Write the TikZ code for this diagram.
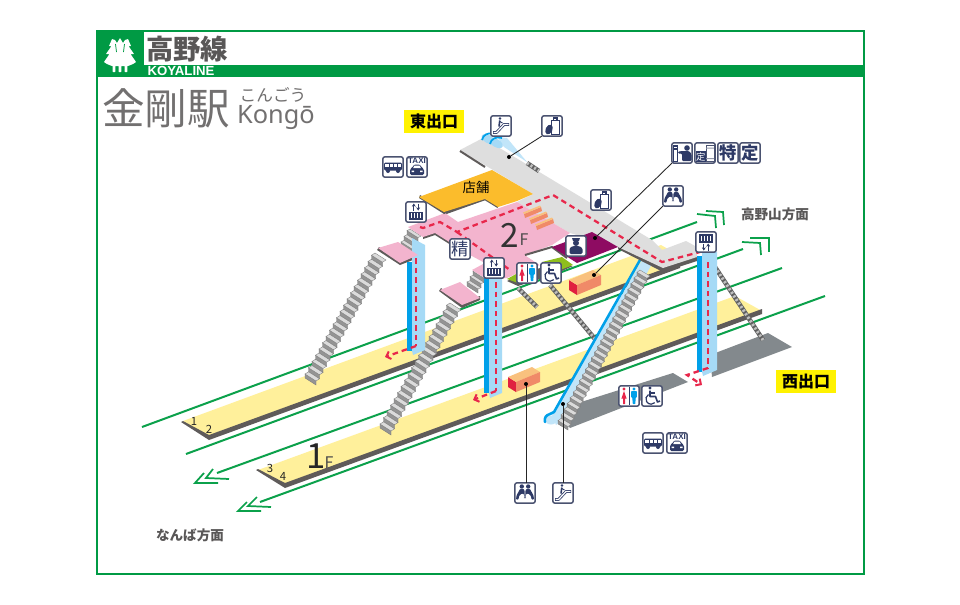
\documentclass[tikz,border=0pt]{standalone}
\usepackage{fontspec}
\usetikzlibrary{arrows.meta}
\setmainfont{Liberation Sans}
\newfontfamily\jp{Noto Sans CJK JP}
\newfontfamily\lat{Noto Sans}
\definecolor{fgreen}{HTML}{009A44}
\definecolor{tgreen}{HTML}{0BA14B}
\definecolor{tgrey}{HTML}{595757}
\definecolor{navy}{HTML}{2E3A66}
\definecolor{iconedge}{HTML}{4A5270}
\definecolor{plat}{HTML}{FFF09B}
\definecolor{pinkf}{HTML}{F3B4CE}
\definecolor{conc}{HTML}{DEDEDE}
\definecolor{shop}{HTML}{FBBC2C}
\definecolor{purp}{HTML}{8E0B62}
\definecolor{lime}{HTML}{8FBE1E}
\definecolor{dk}{HTML}{5F5B5A}
\definecolor{shadowgrey}{HTML}{83898D}
\definecolor{colL}{HTML}{A6DAF6}
\definecolor{colD}{HTML}{00A0E9}
\definecolor{redd}{HTML}{E8274B}
\definecolor{boxT}{HTML}{F9C17E}
\definecolor{boxF}{HTML}{F08A68}
\definecolor{boxS}{HTML}{E02040}
\tikzset{
  icon/.style={draw=iconedge,fill=white,line width=1.1pt,rounded corners=1.5pt,minimum size=15.2pt,inner sep=0pt,outer sep=0pt},
  track/.style={draw=tgreen,line width=1.5pt},
  chev/.style={draw=tgreen,line width=1.3pt},
  leader/.style={draw=black!85,line width=0.65pt},
  dotn/.style={circle,fill=black,minimum size=3pt,inner sep=0pt},
  reddash/.style={draw=redd,line width=1.7pt,dash pattern=on 4.2pt off 3pt},
  redarrow/.style={reddash,-{Straight Barb[length=3pt,width=6pt,line width=1.5pt]}},
  label/.style={inner sep=0pt,outer sep=0pt},
  exitlab/.style={fill=yellow,minimum width=45pt,minimum height=17pt,inner sep=0pt,font=\jp\bfseries\fontsize{12}{12}\selectfont,text=black},
  nv/.style={fill=navy,draw=none},
}
% stairs seen from above: x0 y0 x1 y1 steps wx wy h
\newcommand\myStairs[8]{%
  \pgfmathsetmacro\sdx{(#3-#1)/#5}\pgfmathsetmacro\sdy{(#4-#2)/#5}%
  \pgfmathsetmacro\stx{\sdx}\pgfmathsetmacro\sty{\sdy+#8}%
  \foreach \k in {1,...,#5}{%
    \pgfmathsetmacro\px{#1+(#5-\k)*\sdx}\pgfmathsetmacro\py{#2+(#5-\k)*\sdy}%
    \fill[draw=black!52,line width=0.25pt,fill=black!42] (\px,\py)--(\px+#6,\py+#7)--(\px+#6,\py+#7-#8)--(\px,\py-#8)--cycle;
    \fill[draw=black!52,line width=0.25pt,fill=black!14] (\px,\py-#8)--(\px+#6,\py+#7-#8)--(\px+#6+\stx,\py+#7-#8+\sty)--(\px+\stx,\py-#8+\sty)--cycle;
  }}
\newcommand\sideStair[4]{%
  \draw[draw=black!62,line width=3.4pt] (#1,#2)--(#3,#4);
  \draw[draw=black!25,line width=2.3pt,dash pattern=on 1.6pt off 1.6pt] (#1,#2)--(#3,#4);}
\newcommand\gEsc[2]{\begin{scope}[shift={(#1,#2)}]
  \draw[navy,line width=2.1pt,line join=round] (-8,6.5)--(-4.5,6.5)--(3,-1.5)--(8,-1.5);
  \draw[white,line width=.9pt,line join=round] (-7.5,6.5)--(-4.5,6.5)--(3,-1.5)--(7.5,-1.5);
  \fill[nv] (-1,-7.5) circle (1.4);
  \draw[navy,line width=1.2pt] (-1.2,-5.5)--(-2,0.5);
  \draw[navy,line width=.7pt] (-1.2,-4.5)--(1.5,-3);
\end{scope}}
\newcommand\gLocker[2]{\begin{scope}[shift={(#1,#2)}]
  \draw[navy,line width=0.7pt] (-1,-5.5) rectangle (7.5,8);
  \draw[navy,line width=0.8pt] (1.2,-5.5)--(1.2,-8)--(5,-8)--(5,-5.5);
  \fill[nv,rotate around={-25:(-3,3.5)}] (-3,3.5) ellipse (3.4 and 5.2);
\end{scope}}
\newcommand\gBus[2]{\begin{scope}[shift={(#1,#2)}]
  \fill[nv,rounded corners=1pt] (-9,-4.5) rectangle (9,3.5);
  \fill[white] (-8,-2.8) rectangle (8,-0.3);
  \draw[navy,line width=.5pt] (-4,-3)--(-4,0) (0,-3)--(0,0) (4,-3)--(4,0);
  \fill[nv] (-5,4) circle (2) (5,4) circle (2);
\end{scope}}
\newcommand\gTaxi[2]{\begin{scope}[shift={(#1,#2)}]
  \node[label,font=\bfseries\fontsize{6}{6}\selectfont,text=navy] at (0,-6) {TAXI};
  \fill[nv,rounded corners=1pt] (-3,-2.5)--(3,-2.5)--(5,1)--(7,2)--(7,8)--(-7,8)--(-7,2)--(-5,1)--cycle;
  \fill[white] (-2.5,-1.5)--(2.5,-1.5)--(3.8,1)--(-3.8,1)--cycle;
  \fill[white] (-5.5,3.5) rectangle (-3,5) (3,3.5) rectangle (5.5,5);
\end{scope}}
\newcommand\gElev[3]{\begin{scope}[shift={(#1,#2)},yscale=#3]
  \draw[navy,line width=.8pt,-{Stealth[length=2.4pt,width=3pt]}] (-2.2,-1.5)--(-2.2,-8.5);
  \draw[navy,line width=.8pt,-{Stealth[length=2.4pt,width=3pt]}] (2.2,-8.5)--(2.2,-1.5);
  \fill[nv] (-7,-.5) rectangle (7,8);
  \foreach \u in {-4.7,-1.6,1.6,4.7}{\fill[white] (\u-.6,.8) rectangle (\u+.6,6);}
\end{scope}}
\newcommand\gBench[2]{\begin{scope}[shift={(#1,#2)}]
  \foreach \s in {1,-1}{\begin{scope}[xscale=\s]
    \fill[nv] (-3.2,-6.5) circle (2.2);
    \fill[nv,rounded corners=.6pt] (-1,-4)--(-5,-4)--(-8.5,2.5)--(-9,6.5)--(-6.5,6.5)--(-6,3)--(-3.5,0.5)--(-1,1)--(-.6,5)--(-.3,5)--(-.3,-1)--cycle;
  \end{scope}}
\end{scope}}
\newcommand\gStaff[2]{\begin{scope}[shift={(#1,#2)}]
  \fill[nv] (-4,-8)--(4,-8)--(3,-5.2)--(-3,-5.2)--cycle;
  \fill[nv] (0,-3) circle (3);
  \fill[nv,rounded corners=1pt] (-6.5,8)--(-6.5,2)--(-3,0)--(3,0)--(6.5,2)--(6.5,8)--cycle;
\end{scope}}
\newcommand\gToilet[2]{\begin{scope}[shift={(#1,#2)}]
  \fill[redd] (-5,-7) circle (1.7);
  \fill[redd] (-5,-5)--(-2.4,2.5)--(-4,2.5)--(-4,8)--(-6,8)--(-6,2.5)--(-7.6,2.5)--cycle;
  \fill[colD] (5,-7) circle (1.7);
  \fill[colD,rounded corners=.5pt] (2.2,-5)--(7.8,-5)--(7.8,1.5)--(6.6,1.5)--(6.4,8)--(3.6,8)--(3.4,1.5)--(2.2,1.5)--cycle;
  \draw[navy,line width=.5pt] (0,-9)--(0,9);
\end{scope}}
\newcommand\gWheel[2]{\begin{scope}[shift={(#1,#2)}]
  \fill[nv] (-2,-8) circle (1.6);
  \draw[navy,line width=1.2pt,line join=round] (-2,-5.5)--(-2,0.5)--(3.5,0.5)--(5.5,6)--(8,5);
  \draw[navy,line width=.8pt] (-2,-3)--(3,-3);
  \draw[navy,line width=.9pt] (-3.5,-1.5) arc[start angle=240,end angle=45,radius=5.2];
\end{scope}}
\newcommand\gTicketA[2]{\begin{scope}[shift={(#1,#2)}]
  \fill[nv] (-9,-8) rectangle (-4,-3);
  \draw[navy,line width=.6pt] (-8.7,-8) rectangle (-4.3,8);
  \fill[white] (-8,-6.5) rectangle (-5.5,-5);
  \fill[nv] (5,-5) circle (2.8);
  \fill[nv,rounded corners=.8pt] (-4,-1.5)--(1,-2)--(3,-2)--(7,-2)--(9.5,1)--(9.5,8)--(0,8)--(0,.5)--(-4,.5)--cycle;
\end{scope}}
\newcommand\gTicketB[2]{\begin{scope}[shift={(#1,#2)}]
  \fill[nv] (-9.5,-2) rectangle (1,9);
  \node[label,text=white,font=\jp\fontsize{7}{7}\selectfont] at (-4.2,3.5) {定};
  \draw[iconedge,line width=.6pt] (1,-8) rectangle (9,8);
  \fill[iconedge!60] (1,-5.5) rectangle (9,-4.5) (1,5) rectangle (9,6);
\end{scope}}
\newcommand\boxThing[2]{% top-left corner x y
  \fill[boxS] (#1,#2)--(#1+8,#2+5)--(#1+8,#2+15)--(#1,#2+10)--cycle;
  \fill[boxT] (#1,#2)--(#1+24,#2-10)--(#1+32,#2-5)--(#1+8,#2+5)--cycle;
  \fill[boxF] (#1+8,#2+5)--(#1+32,#2-5)--(#1+32,#2+5)--(#1+8,#2+15)--cycle;}
\begin{document}
\begin{tikzpicture}[x=0.75pt,y=-0.75pt]
\useasboundingbox (0,0) rectangle (960,604);
\fill[white] (0,0) rectangle (960,604);
% frame
\draw[fgreen,line width=1.9pt] (97,31) rectangle (864,574);
\fill[fgreen] (97,31) rectangle (144,77);
\fill[fgreen] (97,65) rectangle (864,77);
% logo
\fill[white,rounded corners=.25pt] (120,38)--(123,43)--(125,40)--(128,39)--(131,46)--(128.5,46)--(134,54)--(130.5,54)--(136,62)--(133,64)--(128,66)--(127.3,66)--(127.3,72)--(124.7,72)--(124.7,66)--(121.3,66)--(121.3,72)--(118.7,72)--(118.7,66)--(115.3,66)--(115.3,72)--(112.7,72)--(112.7,66)--(112,66)--(107,64)--(104,62)--(109.5,54)--(106,54)--(111.5,46)--(109,46)--(112,39)--(115,40)--(117,43)--cycle;
\draw[fgreen,line width=.6pt] (115.5,44)--(116.5,52) (124.5,44)--(123.5,52);
\node[label,font=\jp\bfseries\fontsize{20.5}{20.5}\selectfont,text=tgrey] (title) at (187,49) {高野線};
\node[label,font=\bfseries\fontsize{9.9}{9.9}\selectfont,text=white] (koya) at (181,71.2) {KOYALINE};
\node[label,font=\jp\fontsize{32}{32}\selectfont,text=tgrey!85] (kongoj) at (166,108) {金剛駅};
\node[label,font=\jp\fontsize{12.5}{12.5}\selectfont,text=tgrey!85] (kana) at (273,95) {こんごう};
\node[label,font=\lat\fontsize{19}{19}\selectfont,text=tgrey!85] (kongo) at (276,117.5) {Kongō};
% shadow
\fill[shadowgrey] (570,428)--(688,382)--(673,373)--(578,403)--(560,415)--cycle;
\fill[shadowgrey] (712,377)--(792,347)--(768,333)--(710,355)--cycle;
% tracks
\draw[track] (142,427)--(697,222);
\draw[track] (186,454)--(743,249);
\draw[track] (217,473)--(782,268);
\draw[track] (260,502)--(825,296);
\draw[chev] (706,211)--(723,212)--(724,225);
\draw[chev] (697,214)--(715,216)--(716,228);
\draw[chev] (750,238)--(769,238)--(769,252);
\draw[chev] (742,242)--(760,243)--(761,255);
\draw[chev] (213,469)--(206,478)--(229,479);
\draw[chev] (204,473)--(195,483)--(218,483);
\draw[chev] (257,497)--(248,506)--(271,507);
\draw[chev] (247,502)--(238,511)--(261,511);
% platforms
\fill[plat] (183,421)--(661,245)--(668,249)--(680,265)--(209,437)--cycle;
\fill[dk] (183,421)--(209,435)--(680,263)--(680,268)--(209,440)--(181,422)--cycle;
\fill[plat] (258,470)--(735,296)--(762,311)--(285,485)--cycle;
\fill[dk] (258,469)--(285,483)--(762,309)--(762,314)--(285,488)--(256,470)--cycle;
\node[label,font=\jp\fontsize{8.5}{8.5}\selectfont,text=black!85] (p1) at (194,421) {1};
\node[label,font=\jp\fontsize{8.5}{8.5}\selectfont,text=black!85] (p2) at (209,429) {2};
\node[label,font=\jp\fontsize{8.5}{8.5}\selectfont,text=black!85] (p3) at (270,468) {3};
\node[label,font=\jp\fontsize{8.5}{8.5}\selectfont,text=black!85] (p4) at (283,476) {4};
\node[label,font=\jp\fontsize{26}{26}\selectfont,text=black!85] (f1) at (316,456) {1};
\node[label,font=\jp\fontsize{12}{12}\selectfont,text=black!70] (f1f) at (329,463) {F};
% boxes
\boxThing{569}{280}
\boxThing{508}{377}
% side stairs
\sideStair{715}{267}{763}{340}
\sideStair{518}{288}{537}{307}
\sideStair{550}{285}{600}{345}
% long escalator
\fill[colL!70!white] (644,257)--(652,264)--(566,418)--(556,425)--(552,415)--cycle;
\fill[colL!70!white] (551,420) ellipse (6 and 4.5);
% long stairs
\myStairs{305}{378}{375}{253}{20}{11}{7}{4}
\myStairs{380}{428}{450}{303}{20}{11}{7}{4}
\myStairs{401}{246}{410}{229}{3}{11}{7}{4}
\myStairs{467}{286}{476}{270}{3}{11}{7}{4}
\myStairs{558}{424}{640}{270}{27}{10}{6}{3.4}
\draw[colD,line width=1.9pt,line cap=round] (550,414)..controls (546,415) and (544,418) .. (545,422);
\draw[colD,line width=1.9pt] (550,414)--(554,412)--(640,260)..controls (642,256) and (646,256) .. (649,258);
% 2F concourse
\fill[dk] (618,249)--(663,272)--(697,261)--(697,256)--(663,267)--(618,244)--cycle;
\fill[conc] (460,150)--(483,138)--(652,240)--(662,250)--(686,241)--(697,247)--(697,257)--(663,268)--(618,247)--(570,233)--(517,202)--(533,194)--(493,170)--cycle;
\draw[dk,line width=1.5pt] (460,151)--(485,167);
% top escalator
\fill[colL!70!white] (497,137)--(507,138)--(527,162)--(504,147)--cycle;
\fill[colL,rotate around={-30:(488,139)}] (488,139) ellipse (7 and 4);
\fill[colL,rotate around={-30:(496,143)}] (496,143) ellipse (7.5 and 4);
\draw[colD,line width=1.3pt] (482,140)..controls (483,135) and (488,132) .. (493,134);
\draw[colD,line width=1.3pt] (490,144)..controls (491,139) and (496,136) .. (502,138);
\sideStair{527}{163}{539}{171}
% hole under shop
\fill[white] (447,213)--(485,199)--(498,207)--(457,222)--cycle;
\draw[dk,line width=1.7pt] (446,213)--(485,199)--(498,207);
% pink floor
\fill[dk] (423,239)--(435,235)--(470,257)--(472,254)--(435,231)--(423,235)--cycle;
\fill[dk] (507,281)--(518,276)--(540,268)--(573,266)--(555,274)--(518,286)--cycle;
\fill[pinkf] (408,227)--(445,213)--(458,222)--(517,202)--(570,233)--(552,245)--(525,255)--(540,265)--(518,273)--(507,278)--(485,278)--(472,270)--(485,263)--(470,255)--(435,233)--(423,237)--cycle;
\fill[white] (525,255)--(552,247)--(567,258)--(540,265)--cycle;
\draw[dk,line width=1.5pt] (525,255)--(552,247)--(567,258);
\fill[lime] (542,262)--(562,257)--(573,265)--(555,272)--cycle;
\fill[lime] (507,279)--(518,273)--(518,283)--cycle;
\fill[purp] (552,247)--(592,232)--(618,247)--(577,263)--cycle;
% orange shop
\fill[dk] (419,198)--(444,214)--(485,200)--(485,196)--(444,209)--(420,195)--cycle;
\fill[shop] (419,197)--(492,170)--(533,194)--(517,201)--(498,207)--(485,199)--(444,212)--cycle;
\node[label,font=\jp\fontsize{10}{10}\selectfont,text=black] (shopt) at (476,187) {店舗};
% small orange stairs
\foreach \a/\b in {524/214,530/220,536/226}{
  \fill[boxF] (\a,\b)--(\a+17,\b-7)--(\a+18,\b-3)--(\a+1,\b+4)--cycle;
  \fill[boxT] (\a,\b)--(\a+17,\b-7)--(\a+16,\b-8.5)--(\a-1,\b-1.5)--cycle;}
% landings
\fill[dk] (377,250)--(400,265)--(418,258)--(418,254)--(400,260)--(379,247)--cycle;
\fill[dk] (439,291)--(462,308)--(480,300)--(480,296)--(462,302)--(441,288)--cycle;
% columns
\fill[colD] (407,262) rectangle (413,351);
\fill[colL] (412,238)--(425,245)--(425,350)--(413,355)--(412,351)--cycle;
\fill[colD] (484,270) rectangle (490,393);
\fill[colL] (489,265)--(502,265)--(502,393)--(490,398)--(489,393)--cycle;
\fill[colD] (697,256) rectangle (703,372);
\fill[colL] (702,252)--(717,252)--(717,370)--(703,376)--(702,372)--cycle;
\fill[pinkf] (378,248)--(398,242)--(418,255)--(400,263)--cycle;
\fill[pinkf] (440,290)--(460,282)--(480,298)--(462,305)--cycle;
% red routes
\draw[reddash] (420,227)--(423,228)--(440,222)--(457,232)--(553,195)--(662,262)--(700,252);
\draw[reddash] (457,232)--(510,270);
\draw[reddash] (416,258)--(416,346);
\draw[redarrow] (416,346)--(385,357);
\draw[reddash] (496,282)--(496,391);
\draw[redarrow] (496,391)--(473,400);
\draw[reddash] (708,262)--(708,368);
\draw[redarrow] (708,368)--(687,375)--(702,385);
% texts 2F
\node[label,font=\jp\fontsize{25}{25}\selectfont,text=black!80] (f2) at (510,235) {2};
\node[label,font=\jp\fontsize{12}{12}\selectfont,text=black!70] (f2f) at (524,240) {F};
\node[exitlab] (east) at (434,121.5) {東出口};
\node[exitlab] (west) at (806,381.5) {西出口};
\node[label,font=\jp\bfseries\fontsize{10.2}{10.2}\selectfont,text=tgrey] (koyadir) at (775,214) {高野山方面};
\node[label,font=\jp\bfseries\fontsize{10.2}{10.2}\selectfont,text=tgrey] (nambadir) at (190,535) {なんば方面};
% icons
\node[icon] (i1) at (501,126) {};
\node[icon] (i2) at (552,126) {};
\node[icon] (i3) at (393,167) {};
\node[icon] (i4) at (417,167) {};
\node[icon] (i5) at (416,212) {};
\node[icon] (i6) at (601,200) {};
\node[icon] (i7) at (682,153) {};
\node[icon] (i8) at (705,153) {};
\node[icon,font=\jp\bfseries\fontsize{13}{13}\selectfont,text=navy] (i9) at (728,153) {特};
\node[icon,font=\jp\bfseries\fontsize{13}{13}\selectfont,text=navy] (i10) at (750,153) {定};
\node[icon] (i11) at (673,196) {};
\node[icon] (i12) at (706,242) {};
\node[icon] (i13) at (576,246) {};
\node[icon,font=\jp\fontsize{13}{13}\selectfont,text=navy] (i14) at (460,249) {精};
\node[icon] (i15) at (494,268) {};
\node[icon] (i16) at (527,273) {};
\node[icon] (i17) at (551,273) {};
\node[icon] (i18) at (629,396) {};
\node[icon] (i19) at (652,396) {};
\node[icon] (i20) at (653,443) {};
\node[icon] (i21) at (677,443) {};
\node[icon] (i22) at (525,493) {};
\node[icon] (i23) at (563,493) {};
\gEsc{501}{126}\gLocker{552}{126}\gBus{393}{167}\gTaxi{417}{167}
\gElev{416}{212}{1}\gLocker{601}{200}\gTicketA{682}{153}\gTicketB{705}{153}
\gBench{673}{196}\gElev{706}{242}{-1}\gStaff{576}{246}\gElev{494}{268}{1}
\gToilet{527}{273}\gWheel{551}{273}\gToilet{629}{396}\gWheel{652}{396}
\gBus{653}{443}\gTaxi{677}{443}\gBench{525}{493}\gEsc{563}{493}
% leaders
\node[dotn] (d1) at (509,157) {};
\node[dotn] (d2) at (595,238) {};
\node[dotn] (d3) at (594,275) {};
\node[dotn] (d4) at (526,384) {};
\node[dotn] (d5) at (563,404) {};
\draw[leader] (d1)--(i2.south west);
\draw[leader] (d2)--(i7.south west);
\draw[leader] (d3)--(i11.south west);
\draw[leader] (d4)--(d4|-i22.north);
\draw[leader] (d5)--(i23.north);
\end{tikzpicture}
\end{document}
